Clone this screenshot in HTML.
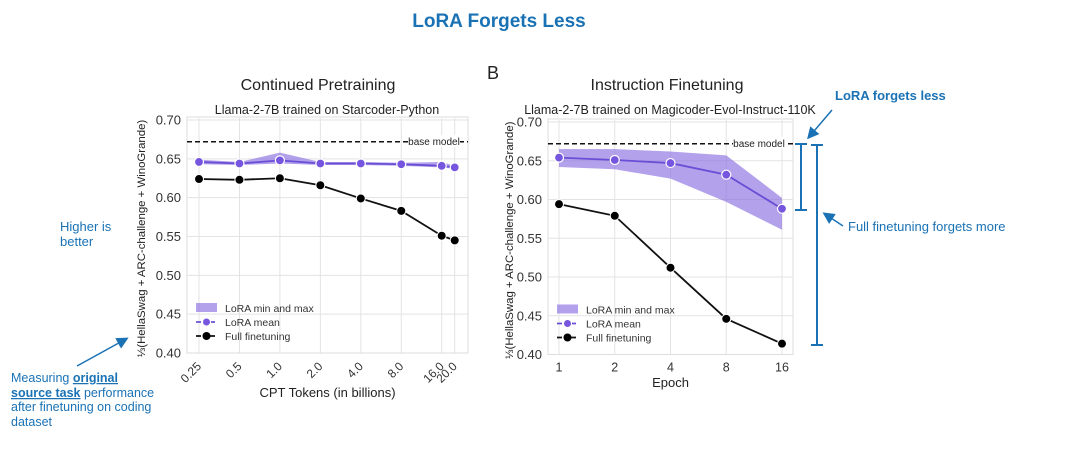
<!DOCTYPE html>
<html><head><meta charset="utf-8"><style>
body{margin:0;background:#fff;width:1080px;height:447px;overflow:hidden;font-family:"Liberation Sans",sans-serif}
svg text{font-family:"Liberation Sans",sans-serif}
</style></head><body>
<svg id="s" width="1080" height="447" viewBox="0 0 1080 447" xmlns="http://www.w3.org/2000/svg">
<defs><marker id="ah" markerWidth="8" markerHeight="8" refX="6" refY="4" orient="auto"><path d="M0,0 L8,4 L0,8 z" fill="#1a72b5"/></marker></defs>
<text x="499" y="27" font-size="19" font-weight="bold" fill="#1a72b5" text-anchor="middle">LoRA Forgets Less</text>
<text x="60" y="231" font-size="13" fill="#1a72b5">Higher is</text>
<text x="60" y="246" font-size="13" fill="#1a72b5">better</text>
<line x1="77" y1="366" x2="126" y2="339" stroke="#1a72b5" stroke-width="1.5" marker-end="url(#ah)"/>
<g font-size="12.5" fill="#1a72b5">
<text x="11" y="382">Measuring <tspan font-weight="bold" text-decoration="underline">original</tspan></text>
<text x="11" y="397"><tspan font-weight="bold" text-decoration="underline">source task</tspan> performance</text>
<text x="11" y="411">after finetuning on coding</text>
<text x="11" y="426">dataset</text>
</g>
<text x="487" y="79" font-size="18" fill="#222">B</text>
<text x="835" y="100" font-size="13" font-weight="bold" fill="#1a72b5">LoRA forgets less</text>
<line x1="832" y1="110" x2="809" y2="137" stroke="#1a72b5" stroke-width="1.5" marker-end="url(#ah)"/>
<text x="848" y="231" font-size="13" fill="#1a72b5">Full finetuning forgets more</text>
<line x1="843" y1="226" x2="825" y2="214" stroke="#1a72b5" stroke-width="1.5" marker-end="url(#ah)"/>
<g stroke="#1a72b5" stroke-width="2"><line x1="801" y1="144" x2="801" y2="210"/><line x1="795" y1="144" x2="807" y2="144"/><line x1="795" y1="210" x2="807" y2="210"/></g>
<g stroke="#1a72b5" stroke-width="2"><line x1="817" y1="145" x2="817" y2="345"/><line x1="811" y1="145" x2="823" y2="145"/><line x1="811" y1="345" x2="823" y2="345"/></g>
<g id="c1"></g><g id="c2"></g>
</svg>
<script>
const yTicks=[0.40,0.45,0.50,0.55,0.60,0.65,0.70];
const yTickLabels=["0.40","0.45","0.50","0.55","0.60","0.65","0.70"];
const baseModel=0.672;
const cptTokens=[0.25,0.5,1.0,2.0,4.0,8.0,16.0,20.0];
const cptLabels=["0.25","0.5","1.0","2.0","4.0","8.0","16.0","20.0"];
const cptLoraMean=[0.646,0.644,0.648,0.644,0.644,0.643,0.641,0.639];
const cptLoraMin=[0.643,0.642,0.644,0.642,0.642,0.641,0.639,0.637];
const cptLoraMax=[0.649,0.646,0.658,0.646,0.646,0.645,0.646,0.641];
const cptFull=[0.624,0.623,0.625,0.616,0.599,0.583,0.551,0.545];
const epochs=[1,2,4,8,16];
const epochLabels=["1","2","4","8","16"];
const iftLoraMean=[0.654,0.651,0.647,0.632,0.588];
const iftLoraMin=[0.642,0.639,0.627,0.597,0.561];
const iftLoraMax=[0.665,0.665,0.662,0.657,0.602];
const iftFull=[0.594,0.579,0.512,0.446,0.414];

const NS="http://www.w3.org/2000/svg";
function mk(p,tag,at,txt){const e=document.createElementNS(NS,tag);for(const k in at)e.setAttribute(k,at[k]);if(txt!==undefined)e.textContent=txt;p.appendChild(e);return e;}
function chart(g,cfg){
  const yS=v=>cfg.y0-(v-0.40)/0.30*(cfg.y0-cfg.y1);
  const xS=v=>cfg.xa+(Math.log2(v)-cfg.l0)*cfg.k;
  for(let i=0;i<yTicks.length;i++){const y=yS(yTicks[i]);
    const l=mk(g,'line',{x1:cfg.L,x2:cfg.R,y1:y,y2:y,stroke:'#e3e3e3','stroke-width':1});
    
    const t=mk(g,'text',{x:cfg.L-6,y:y+4.5,'font-size':13,fill:'#333','text-anchor':'end'},yTickLabels[i]);
    }
  for(let i=0;i<cfg.xs.length;i++){const x=xS(cfg.xs[i]);
    const l=mk(g,'line',{x1:x,x2:x,y1:cfg.y1-2,y2:cfg.y0,stroke:'#e3e3e3','stroke-width':1});
    
    let t;
    if(cfg.rot){t=mk(g,'text',{x:x+3,y:cfg.y0+14,'font-size':12,fill:'#333','text-anchor':'end',transform:`rotate(-45 ${x+3} ${cfg.y0+14})`},cfg.labels[i]);}
    else t=mk(g,'text',{x:x,y:cfg.y0+17,'font-size':12.5,fill:'#333','text-anchor':'middle'},cfg.labels[i]);
    }
  const fr=mk(g,'rect',{x:cfg.L,y:cfg.y1-3,width:cfg.R-cfg.L,height:cfg.y0-cfg.y1+3,fill:'none',stroke:'#ddd'});
  
  const by=yS(baseModel);
  const bl=mk(g,'line',{x1:cfg.L,x2:cfg.R,y1:by,y2:by,stroke:'#111','stroke-width':1.5,'stroke-dasharray':'5,3'});
  
  const bw=mk(g,'rect',{x:cfg.R-60,y:by-7,width:52,height:12,fill:'#fff'});
  
  const bt=mk(g,'text',{x:cfg.R-34,y:by+3.5,'font-size':10,fill:'#222','text-anchor':'middle'},'base model');
  
  let d='';cfg.xs.forEach((v,i)=>d+=(i?'L':'M')+xS(v)+','+yS(cfg.max[i]));
  for(let i=cfg.xs.length-1;i>=0;i--)d+='L'+xS(cfg.xs[i])+','+yS(cfg.min[i]);
  const band=mk(g,'path',{d:d+'Z',fill:'#8a6fe0','fill-opacity':0.65});
  
  const lm=mk(g,'polyline',{points:cfg.xs.map((v,i)=>xS(v)+','+yS(cfg.mean[i])).join(' '),fill:'none',stroke:'#6a4fd6','stroke-width':1.8});
  
  cfg.xs.forEach((v,i)=>{const c=mk(g,'circle',{cx:xS(v),cy:yS(cfg.mean[i]),r:4.5,fill:'#7656de',stroke:'#fff','stroke-width':1.2});
    });
  const fl=mk(g,'polyline',{points:cfg.xs.map((v,i)=>xS(v)+','+yS(cfg.full[i])).join(' '),fill:'none',stroke:'#111','stroke-width':1.8});
  
  cfg.xs.forEach((v,i)=>{const c=mk(g,'circle',{cx:xS(v),cy:yS(cfg.full[i]),r:4.5,fill:'#000',stroke:'#fff','stroke-width':1});
    });
  const t1=mk(g,'text',{x:cfg.tx,y:90,'font-size':16,fill:'#222','text-anchor':'middle'},cfg.title);
  
  const t2=mk(g,'text',{x:cfg.sx,y:114,'font-size':12.5,fill:'#222','text-anchor':'middle'},cfg.sub);
  
  const xt=mk(g,'text',{x:(cfg.L+cfg.R)/2,y:cfg.xty,'font-size':13,fill:'#222','text-anchor':'middle'},cfg.xtitle);
  
  const yc=(cfg.y0+cfg.y1)/2+2;
  const yt=mk(g,'text',{x:cfg.ytx,y:yc,'font-size':11.4,fill:'#222','text-anchor':'middle',transform:`rotate(-90 ${cfg.ytx} ${yc})`},'⅓(HellaSwag + ARC-challenge + WinoGrande)');
  
  const lx=cfg.L+9,ly=cfg.y0-45;
  const lb=mk(g,'rect',{x:lx,y:ly-5,width:21,height:9,fill:'#8a6fe0','fill-opacity':0.65});
  
  const l1=mk(g,'text',{x:lx+29,y:ly+4,'font-size':10.5,fill:'#333'},'LoRA min and max');
  
  const ls=mk(g,'line',{x1:lx,x2:lx+21,y1:ly+14,y2:ly+14,stroke:'#6a4fd6','stroke-width':1.8,'stroke-dasharray':'5,2'});
  
  const lc=mk(g,'circle',{cx:lx+10.5,cy:ly+14,r:4,fill:'#7656de',stroke:'#fff'});
  
  const l2=mk(g,'text',{x:lx+29,y:ly+18,'font-size':10.5,fill:'#333'},'LoRA mean');
  
  const lf=mk(g,'line',{x1:lx,x2:lx+21,y1:ly+28,y2:ly+28,stroke:'#111','stroke-width':1.8,'stroke-dasharray':'5,2'});
  
  const lfc=mk(g,'circle',{cx:lx+10.5,cy:ly+28,r:4,fill:'#000'});
  
  const l3=mk(g,'text',{x:lx+29,y:ly+32,'font-size':10.5,fill:'#333'},'Full finetuning');
  
}
chart(document.getElementById('c1'),{L:187,R:468,y0:353,y1:120,xa:199,l0:-2,k:40.45,xs:cptTokens,labels:cptLabels,rot:true,
  mean:cptLoraMean,min:cptLoraMin,max:cptLoraMax,full:cptFull,title:'Continued Pretraining',tx:318,sub:'Llama-2-7B trained on Starcoder-Python',sx:327,xtitle:'CPT Tokens (in billions)',xty:397,ytx:145});
chart(document.getElementById('c2'),{L:548,R:793,y0:354.5,y1:122,xa:559,l0:0,k:55.75,xs:epochs,labels:epochLabels,rot:false,
  mean:iftLoraMean,min:iftLoraMin,max:iftLoraMax,full:iftFull,title:'Instruction Finetuning',tx:667,sub:'Llama-2-7B trained on Magicoder-Evol-Instruct-110K',sx:670,xtitle:'Epoch',xty:387,ytx:513});
</script>
</body></html>
